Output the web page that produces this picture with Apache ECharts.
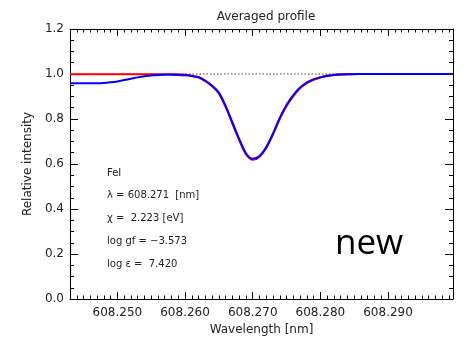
<!DOCTYPE html>
<html>
<head>
<meta charset="utf-8">
<script src="https://cdn.jsdelivr.net/npm/echarts@6/dist/echarts.min.js"></script>
<style>
html,body{margin:0;padding:0;background:#fff;}
#chart{width:471px;height:341px;}
</style>
</head>
<body>
<div id="chart"></div>
<script>
// ---- data ----
var chartTitle = 'Averaged profile';
var xAxisName = 'Wavelength [nm]';
var yAxisName = 'Relative intensity';
var xMin = 608.243, xMax = 608.2996;
var yMin = 0, yMax = 1.2, yStep = 0.2;
var continuumLevel = 1.0;

var wavelengths = [
  608.243, 608.244, 608.245, 608.246, 608.247, 608.248, 608.249, 608.250,
  608.251, 608.252, 608.253, 608.254, 608.255, 608.256, 608.257, 608.258,
  608.259, 608.260, 608.261, 608.262, 608.263, 608.264, 608.265, 608.266,
  608.267, 608.268, 608.269, 608.270, 608.271, 608.272, 608.273, 608.274,
  608.275, 608.276, 608.277, 608.278, 608.279, 608.280, 608.281, 608.282,
  608.283, 608.284, 608.285, 608.286, 608.287, 608.288, 608.289, 608.290,
  608.291, 608.292, 608.293, 608.294, 608.295, 608.296, 608.297, 608.298,
  608.299, 608.2996
];
// synthetic (red) profile
var redProfile = [
  0.999, 0.999, 0.999, 0.999, 0.999, 0.999, 0.999, 0.999,
  0.999, 0.999, 0.999, 0.999, 0.999, 0.999, 0.999, 0.999,
  0.998, 0.997, 0.992, 0.985, 0.969, 0.946, 0.914, 0.854,
  0.780, 0.707, 0.644, 0.619, 0.632, 0.672, 0.732, 0.801,
  0.858, 0.902, 0.937, 0.960, 0.975, 0.985, 0.992, 0.996,
  0.998, 0.999, 1.000, 1.000, 1.000, 1.000, 1.000, 1.000,
  1.000, 1.000, 1.000, 1.000, 1.000, 1.000, 1.000, 1.000,
  1.000, 1.000
];
// observed averaged (blue) profile
var blueProfile = [
  0.959, 0.959, 0.959, 0.959, 0.959, 0.960, 0.963, 0.967,
  0.973, 0.979, 0.985, 0.990, 0.993, 0.996, 0.997, 0.997,
  0.996, 0.994, 0.991, 0.986, 0.970, 0.948, 0.917, 0.858,
  0.785, 0.712, 0.648, 0.623, 0.635, 0.675, 0.735, 0.805,
  0.862, 0.906, 0.940, 0.962, 0.976, 0.985, 0.992, 0.996,
  0.998, 0.999, 0.999, 1.000, 1.000, 1.000, 1.000, 1.000,
  1.000, 1.000, 1.000, 1.000, 1.000, 1.000, 1.000, 1.000,
  1.000, 1.000
];
var annotationLines = [
  'FeI',
  '\u03bb = 608.271  [nm]',
  '\u03c7 =  2.223 [eV]',
  'log gf = \u22123.573',
  'log \u03b5 =  7.420'
];
var stampText = 'new';

// ---- chart ----
function pairs(xs, ys){ return xs.map(function(x,i){ return [x, ys[i]]; }); }

var font = 'DejaVu Sans';
var ink = '#222';
var chart = echarts.init(document.getElementById('chart'), null, {renderer:'canvas'});

function xAx(pos, showLabel){
  return {
    type:'value', position:pos, min:xMin, max:xMax, splitNumber:5,
    name: showLabel ? xAxisName : '', nameLocation:'middle', nameGap:21,
    nameTextStyle:{fontFamily:font, fontSize:12, color:ink},
    axisLine:{show:true, onZero:false, lineStyle:{color:'#000', width:1}},
    axisTick:{show:true, inside:true, length:7, lineStyle:{color:'#000'}},
    minorTick:{show:true, splitNumber:10, length:3.5, lineStyle:{color:'#000'}},
    splitLine:{show:false},
    axisLabel:{show:showLabel, showMinLabel:false, showMaxLabel:false, margin:8,
      fontFamily:font, fontSize:12, color:ink,
      formatter:function(v){ return v.toFixed(3); }}
  };
}
function yAx(pos, showLabel){
  return {
    type:'value', position:pos, min:yMin, max:yMax, interval:yStep,
    name: showLabel ? yAxisName : '', nameLocation:'middle', nameGap:27,
    nameTextStyle:{fontFamily:font, fontSize:12, color:ink},
    axisLine:{show:true, onZero:false, lineStyle:{color:'#000', width:1}},
    axisTick:{show:true, inside:true, length:8, lineStyle:{color:'#000'}},
    minorTick:{show:true, splitNumber:4, length:4, lineStyle:{color:'#000'}},
    splitLine:{show:false},
    axisLabel:{show:showLabel, margin:6, fontFamily:font, fontSize:12, color:ink,
      formatter:function(v){ return v.toFixed(1); }}
  };
}

var graphics = annotationLines.map(function(t, i){
  return {type:'text', left:107, top:168 + i*22.8,
    style:{text:t, font:'10px "DejaVu Sans"', fill:ink}};
});
graphics.push({type:'text', left:335, top:227,
  style:{text:stampText, font:'35px "Open Sans"', fill:'#000'}});

chart.setOption({
  animation:false,
  backgroundColor:'#fff',
  title:{text:chartTitle, left:261, top:6, textAlign:'center',
    textStyle:{fontFamily:font, fontSize:12, fontWeight:'normal', color:ink}},
  grid:{left:70, right:18, top:29, bottom:42},
  xAxis:[xAx('bottom', true), xAx('top', false)],
  yAxis:[yAx('left', true), yAx('right', false)],
  series:[
    {type:'line', name:'continuum', data:[[xMin, continuumLevel],[xMax, continuumLevel]],
      symbol:'none', lineStyle:{color:'#444', width:1, type:[1.5,2]}, silent:true, z:1},
    {type:'line', name:'synthetic', data:pairs(wavelengths, redProfile),
      symbol:'none', smooth:0.3, lineStyle:{color:'#ff0000', width:2.2}, z:2},
    {type:'line', name:'observed', data:pairs(wavelengths, blueProfile),
      symbol:'none', smooth:0.3, lineStyle:{color:'#0000ff', width:2}, z:3}
  ],
  graphic:graphics
});
</script>
</body>
</html>
